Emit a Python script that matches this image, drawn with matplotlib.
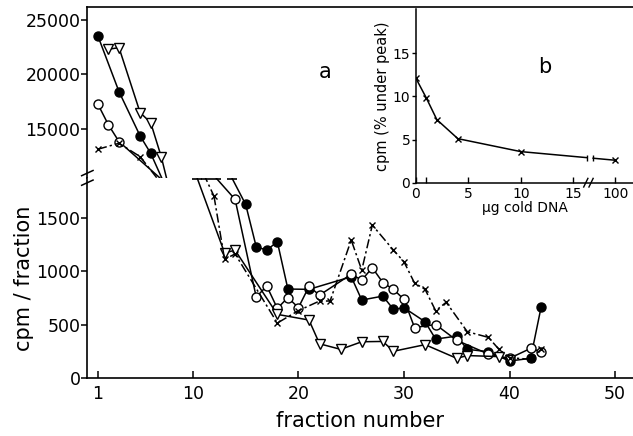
import numpy as np
import matplotlib
matplotlib.use('Agg')
import matplotlib.pyplot as plt
from matplotlib.lines import Line2D

# ---- panel a : upper (broken) part, fractions 1-7 ----
# last value of each list lies below the break (line runs off scale)
frac_filled_top = [1, 3, 5, 6, 7.2]
cpm_filled_top = [23530, 18420, 14360, 12770, 10180]
frac_open_top = [1, 2, 3, 7.0]
cpm_open_top = [17270, 15370, 13840, 10400]
frac_tri_top = [2, 3, 5, 6, 7, 7.6]
cpm_tri_top = [22310, 22460, 16500, 15580, 12460, 10110]
frac_x_top = [1, 3, 5, 6.7]
cpm_x_top = [13140, 13690, 12460, 10370]

# ---- panel a : lower part (first value of each list lies above the break) ----
frac_filled = [13.5, 15, 16, 17, 18, 19, 21, 25, 26, 28, 29, 30, 32, 33, 35, 36, 38, 40, 42, 43]
cpm_filled = [1908, 1623, 1227, 1196, 1274, 832, 829, 947, 729, 766, 642, 657, 526, 364, 392,
              268, 246, 159, 184, 666]
frac_open = [12.0, 14, 16, 17, 18, 19, 20, 21, 22, 25, 26, 27, 28, 29, 30, 31, 33, 35, 38, 40, 42, 43]
cpm_open = [1892, 1670, 757, 860, 651, 752, 658, 856, 775, 970, 916, 1031, 892, 829, 735, 472,
            500, 352, 224, 184, 277, 246]
frac_tri = [10.2, 13, 14, 18, 21, 22, 24, 26, 28, 29, 32, 35, 36, 39, 40]
cpm_tri = [1925, 1170, 1195, 595, 542, 320, 268, 339, 342, 250, 312, 184, 210, 200, 170]
frac_x = [11.0, 12, 13, 14, 18, 20, 22, 23, 25, 26, 27, 29, 30, 31, 32, 33, 34, 36, 38, 39, 40, 42, 43]
cpm_x = [1912, 1700, 1110, 1160, 514, 630, 720, 720, 1290, 1009, 1430, 1196, 1087, 888, 829,
         629, 708, 433, 380, 268, 190, 175, 268]

# ---- panel b ----
dna_ug = [0, 1, 2, 4, 10, 100]
pct_under_peak = [12.1, 9.8, 7.3, 5.1, 3.6, 2.6]
b_tick_labels = ['0', '5', '10', '15', '100']

TOP_LIM = (10500, 26190)
BOT_LIM = (0, 1870)
XLIM = (0, 51.7)

plt.rcParams['font.family'] = 'DejaVu Sans'

fig = plt.figure(figsize=(6.33, 4.36), dpi=100)
ax_top = fig.add_axes([0.138, 0.5917, 0.862, 0.3923])
ax_bot = fig.add_axes([0.138, 0.133, 0.862, 0.4587])

styles = [
    dict(marker='o', mfc='black', mec='black', ls='-'),
    dict(marker='o', mfc='white', mec='black', ls='-'),
    dict(marker='v', mfc='white', mec='black', ls='-', ms=7),
    dict(marker='x', mfc='black', mec='black', ls=(0, (6, 2, 1.5, 2)), ms=5, mew=1.0),
]
top_data = [(frac_filled_top, cpm_filled_top), (frac_open_top, cpm_open_top),
            (frac_tri_top, cpm_tri_top), (frac_x_top, cpm_x_top)]
bot_data = [(frac_filled, cpm_filled), (frac_open, cpm_open),
            (frac_tri, cpm_tri), (frac_x, cpm_x)]

for (xs, ys), st in zip(top_data, styles):
    kw = dict(color='black', lw=1.1, ms=6.5, mew=1.0)
    kw.update(st)
    ax_top.plot(xs[:-1], ys[:-1], **kw)
    ax_top.plot(xs[-2:], ys[-2:], color='black', lw=1.1, ls=kw['ls'], zorder=1)

for (xs, ys), st in zip(bot_data, styles):
    kw = dict(color='black', lw=1.1, ms=6.5, mew=1.0)
    kw.update(st)
    ax_bot.plot(xs[1:], ys[1:], **kw)
    ax_bot.plot(xs[:2], ys[:2], color='black', lw=1.1, ls=kw['ls'], zorder=1)
    # T-cap where the line comes back onto the scale
    t = (ys[0] - BOT_LIM[1]) / (ys[0] - ys[1])
    xc = xs[0] + t * (xs[1] - xs[0])
    ax_bot.plot([xc], [BOT_LIM[1] - 8], marker='_', ms=7, mew=1.2, color='black', clip_on=False)

ax_top.set_xlim(*XLIM)
ax_bot.set_xlim(*XLIM)
ax_top.set_ylim(*TOP_LIM)
ax_bot.set_ylim(*BOT_LIM)

for s in ['right', 'bottom']:
    ax_top.spines[s].set_visible(False)
for s in ['right', 'top']:
    ax_bot.spines[s].set_visible(False)
for ax in (ax_top, ax_bot):
    for s in ax.spines.values():
        s.set_linewidth(1.2)

ax_top.set_xticks([])
ax_top.set_yticks([15000, 20000, 25000])
ax_bot.set_yticks([0, 500, 1000, 1500])
ax_bot.set_xticks([1, 10, 20, 30, 40, 50])
ax_top.tick_params(axis='y', direction='out', length=4, width=1.1, labelsize=12.5, pad=1)
ax_bot.tick_params(axis='y', direction='out', length=4, width=1.1, labelsize=12.5, pad=1)
ax_bot.tick_params(axis='x', direction='in', length=5, width=1.1, labelsize=12.5, pad=5)

ax_bot.set_xlabel('fraction number', fontsize=15, labelpad=6)
ax_bot.set_ylabel('cpm / fraction', fontsize=15, labelpad=2)
ax_top.text(0.435, 0.62, 'a', transform=ax_top.transAxes, fontsize=15, ha='center', va='center')

# axis break marks on the left spine
xb = 0.138
for yb in (0.603, 0.581):
    fig.add_artist(Line2D([xb - 0.009, xb + 0.009], [yb - 0.006, yb + 0.006],
                          transform=fig.transFigure, color='black', lw=1.1))

# ---- inset b ----
ax_in = fig.add_axes([0.657, 0.581, 0.343, 0.398])
dna_pos = [d if d <= 15 else 19 for d in dna_ug]
ax_in.plot(dna_pos[:-1], pct_under_peak[:-1], color='black', lw=1.1, marker='x', ms=5, mew=1.0)
# line from 10 to 100 ug with a break in it
gap = (16.3, 16.9)
y_gap = np.interp(gap, dna_pos[-2:], pct_under_peak[-2:])
ax_in.plot([dna_pos[-2], gap[0]], [pct_under_peak[-2], y_gap[0]], color='black', lw=1.1)
ax_in.plot([gap[1], dna_pos[-1]], [y_gap[1], pct_under_peak[-1]], color='black', lw=1.1)
ax_in.plot(gap, y_gap, ls='none', marker='|', ms=5, mew=1.0, color='black')
ax_in.plot(dna_pos[-1:], pct_under_peak[-1:], ls='none', marker='x', ms=5, mew=1.0, color='black')

ax_in.set_xlim(0, 20.7)
ax_in.set_ylim(0, 20.1)
ax_in.set_xticks([0, 5, 10, 15, 19])
ax_in.set_xticklabels(b_tick_labels)
ax_in.set_xticks([1], minor=True)
ax_in.set_yticks([0, 5, 10, 15])
ax_in.tick_params(axis='x', which='both', direction='in', length=4, width=1.0, labelsize=10, pad=3)
ax_in.tick_params(axis='y', direction='out', length=3, width=1.0, labelsize=10, pad=1)
for s in ['right', 'top']:
    ax_in.spines[s].set_visible(False)
for s in ['left', 'bottom']:
    ax_in.spines[s].set_linewidth(1.1)
ax_in.set_xlabel('µg cold DNA', fontsize=10, labelpad=0)
ax_in.set_ylabel('cpm (% under peak)', fontsize=10.5, labelpad=2)
ax_in.text(12.3, 13.4, 'b', fontsize=15, ha='center', va='center')
# break marks on inset x axis
for xb2 in (16.2, 16.7):
    ax_in.plot([xb2 - 0.2, xb2 + 0.2], [-0.5, 0.5], color='black', lw=1.0, clip_on=False)

fig.savefig('out.png', dpi=100)
